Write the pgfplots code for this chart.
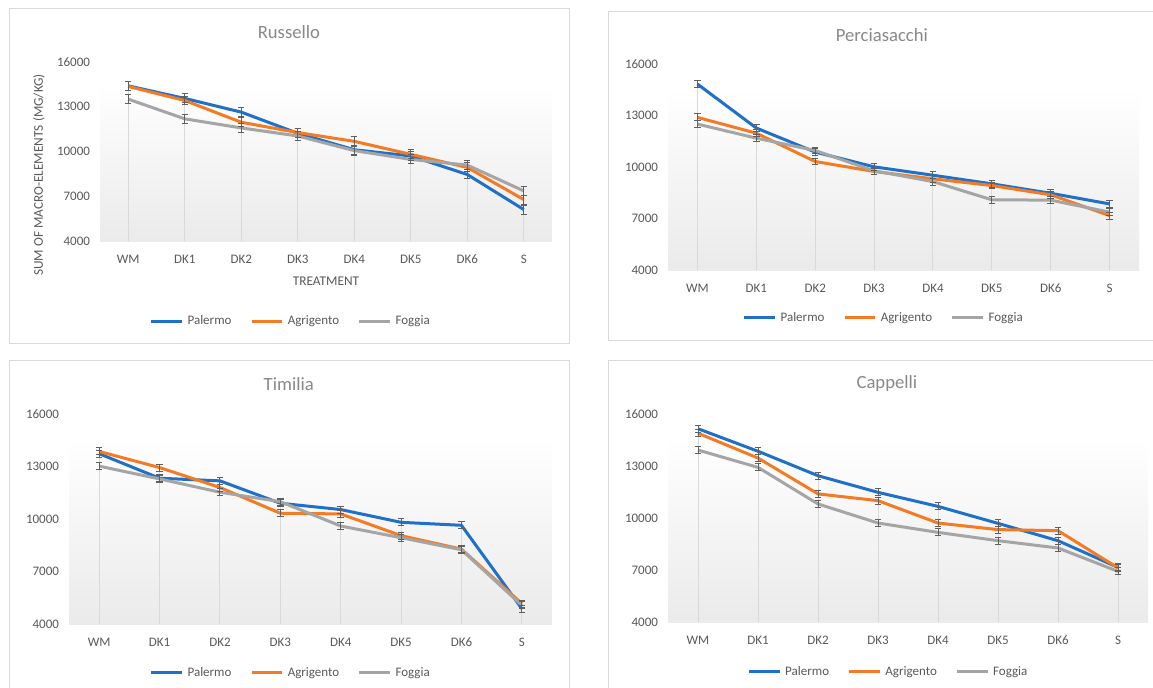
\documentclass[border=0pt]{standalone}
\usepackage{pgfplots}
\pgfplotsset{compat=1.18}
\usepackage{pgfplotstable}
\usepackage{fontspec}
\setmainfont{Carlito}
\definecolor{cblue}{HTML}{1F70C8}
\definecolor{corange}{HTML}{F47B24}
\definecolor{cgray}{HTML}{A5A5A5}
\definecolor{txt}{HTML}{595959}
\definecolor{ttl}{HTML}{898989}
\definecolor{bord}{HTML}{D9D9D9}
\definecolor{dropc}{HTML}{D9D9D9}
\definecolor{errc}{HTML}{5F5F5F}

\pgfplotstableread{
x Pal Agr Fog
0 14400 14360 13510
1 13560 13420 12190
2 12640 11960 11580
3 11220 11270 11040
4 10120 10680 10060
5 9700 9810 9470
6 8460 8930 9090
7 6110 6780 7360
}\russello

\pgfplotstableread{
x Pal Agr Fog
0 14830 12890 12500
1 12270 11970 11680
2 10870 10320 10960
3 10010 9740 9780
4 9520 9310 9150
5 9020 8920 8090
6 8470 8380 8070
7 7850 7170 7370
}\perciasacchi

\pgfplotstableread{
x Pal Agr Fog
0 13730 13860 13020
1 12330 12940 12290
2 12180 11800 11530
3 10900 10330 10990
4 10540 10290 9600
5 9810 9050 8930
6 9640 8280 8240
7 4880 5170 5070
}\timilia

\pgfplotstableread{
x Pal Agr Fog
0 15150 14890 13920
1 13850 13460 12920
2 12440 11390 10810
3 11480 11000 9710
4 10670 9710 9170
5 9690 9330 8690
6 8690 9270 8270
7 7150 7120 6920
}\cappelli

\pgfplotsset{
  panel/.style={
    scale only axis,
    xmin=-0.5, xmax=7.5, ymin=4000, ymax=16000,
    xtick={0,...,7}, xticklabels={WM,DK1,DK2,DK3,DK4,DK5,DK6,S},
    ytick={4000,7000,10000,13000,16000},
    axis lines*=left,
    y axis line style={draw=none},
    x axis line style={draw=bord, line width=0.75pt},
    major tick length=0pt,
    tick label style={font=\fontsize{9.75}{11}\selectfont, text=txt},
    /pgf/number format/assume math mode=true,
    scaled y ticks=false,
    yticklabel style={/pgf/number format/1000 sep={}, xshift=-4pt},
    xticklabel style={yshift=-7pt},
    title style={font=\fontsize{14}{16}\selectfont, text=ttl, anchor=center},
    legend style={draw=none, fill=none, legend columns=3,
      font=\fontsize{9.75}{11}\selectfont, text=txt, anchor=center,
      /tikz/every even column/.append style={column sep=12pt},
      /tikz/every odd column/.append style={column sep=1pt}},
    legend cell align=left,
    legend image code/.code={\draw[#1, line width=2.25pt] (0pt,0pt) -- (23pt,0pt);},
    clip=true,
  },
  ser/.style={line width=2.25pt, line join=round, mark=none},
  drop/.style={ycomb, draw=dropc, line width=0.7pt, mark=none, forget plot},
  err/.style={draw=none, mark=none, forget plot,
    error bars/.cd, y dir=both, y fixed=#1,
    error bar style={draw=errc, line width=0.75pt},
    error mark options={draw=errc, line width=0.75pt, mark size=2.4pt, rotate=90}},
}

\newcommand{\panelbody}[2]{%
  \fill[top color=white, bottom color=black!8] (axis cs:-0.5,4000) rectangle (axis cs:7.5,14650);
  \addplot[drop] table[x=x,y=Pal] {#1};
  \addplot[drop] table[x=x,y=Agr] {#1};
  \addplot[drop] table[x=x,y=Fog] {#1};
  \addplot[ser, cblue] table[x=x,y=Pal] {#1};
  \addplot[ser, corange] table[x=x,y=Agr] {#1};
  \addplot[ser, cgray] table[x=x,y=Fog] {#1};
  \addplot[err=#2] table[x=x,y=Pal] {#1};
  \addplot[err=#2] table[x=x,y=Agr] {#1};
  \addplot[err=#2] table[x=x,y=Fog] {#1};
  \legend{Palermo,Agrigento,Foggia}
}

\begin{document}
\begin{tikzpicture}
\path[use as bounding box] (0,0) rectangle (864.75pt,515.25pt);
\fill[white] (0,0) rectangle (864.75pt,515.25pt);
\draw[bord, line width=0.75pt] (6.75pt,258pt) rectangle (426.75pt,508.5pt);
\draw[bord, line width=0.75pt] (456pt,260.25pt) rectangle (870pt,506.25pt);
\draw[bord, line width=0.75pt] (6.75pt,-9.75pt) rectangle (426.75pt,245.25pt);
\draw[bord, line width=0.75pt] (456pt,-9.75pt) rectangle (870pt,245.25pt);

% Russello
\begin{axis}[panel, at={(75pt,334.5pt)}, anchor=south west,
  width=339pt, height=134.25pt,
  title={Russello}, title style={at={(0.418,1.123)}},
  xlabel={TREATMENT}, xlabel style={at={(0.5,-0.223)}, anchor=center, font=\fontsize{10}{12}\selectfont, text=txt},
  ylabel={SUM OF MACRO-ELEMENTS (MG/KG)}, ylabel style={at={(-0.135,0.369)}, anchor=center, font=\fontsize{10}{12}\selectfont, text=txt},
  legend style={at={(0.423,-0.447)}}]
\panelbody{\russello}{300}
\end{axis}

% Perciasacchi
\begin{axis}[panel, at={(501pt,312.75pt)}, anchor=south west,
  width=353.25pt, height=154.5pt,
  title={Perciasacchi}, title style={at={(0.454,1.102)}},
  legend style={at={(0.459,-0.233)}}]
\panelbody{\perciasacchi}{200}
\end{axis}

% Timilia
\begin{axis}[panel, at={(51.75pt,47.25pt)}, anchor=south west,
  width=362.25pt, height=157.5pt,
  title={Timilia}, title style={at={(0.455,1.105)}},
  legend style={at={(0.46,-0.233)}}]
\panelbody{\timilia}{200}
\end{axis}

% Cappelli
\begin{axis}[panel, at={(501pt,48.75pt)}, anchor=south west,
  width=360pt, height=156pt,
  title={Cappelli}, title style={at={(0.456,1.106)}},
  legend style={at={(0.46,-0.240)}}]
\panelbody{\cappelli}{200}
\end{axis}
\end{tikzpicture}
\end{document}
